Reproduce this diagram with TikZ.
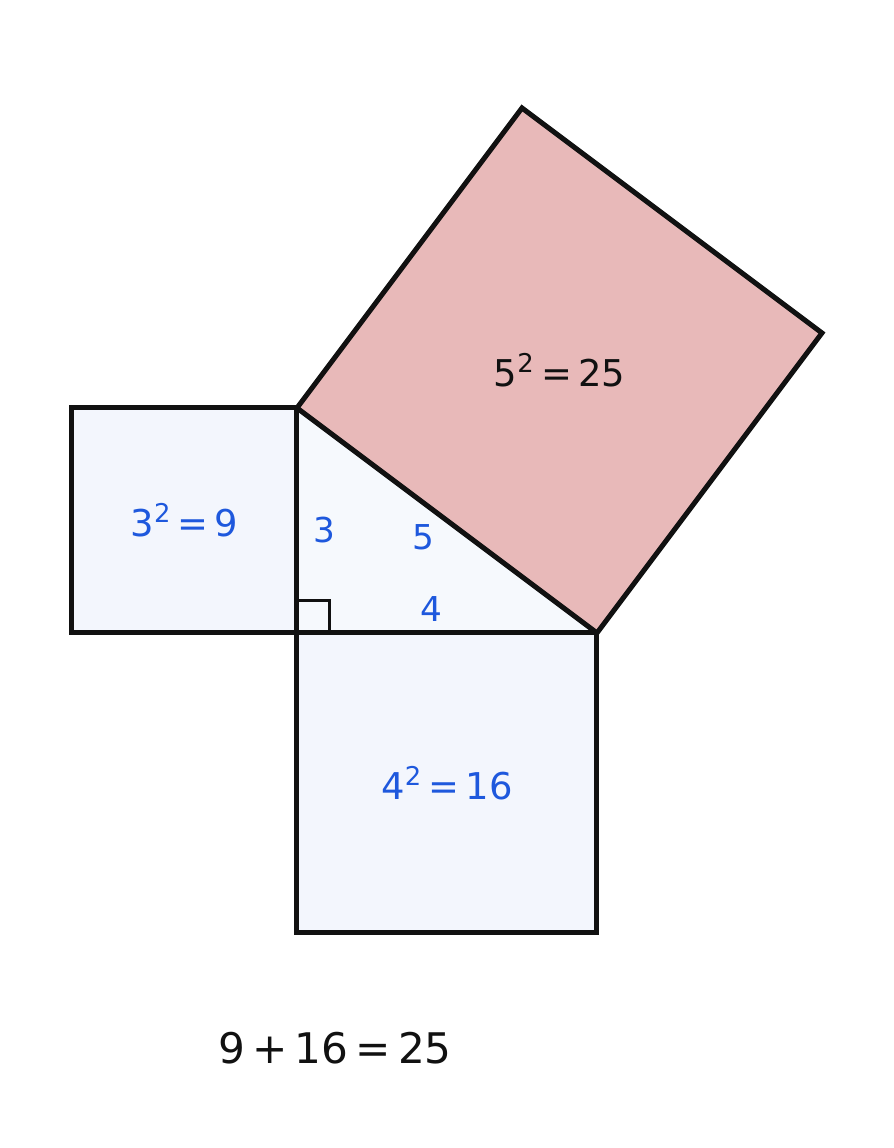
\documentclass[tikz,border=0pt]{standalone}
\usepackage{fontspec}
\setmainfont{DejaVu Sans}
\usepackage{xcolor}
\definecolor{sqblue}{HTML}{F3F6FD}
\definecolor{triblue}{HTML}{F6F9FD}
\definecolor{sqpink}{HTML}{E8B9B9}
\definecolor{labblue}{HTML}{1E58DD}
\definecolor{edge}{HTML}{111111}
\tikzset{
  sqline/.style={draw=edge,line width=1.9pt,line join=miter},
  sqlabel/.style={text=labblue,font=\fontsize{14}{16}\selectfont},
  sidelabel/.style={text=labblue,font=\fontsize{13}{15}\selectfont},
}

\begin{document}
\begin{tikzpicture}
    \useasboundingbox (-3.96,-6.867) rectangle (7.96,8.44);
    \coordinate (C) at (0,0);
    \coordinate (A) at (0,3);
    \coordinate (B) at (4,0);
    \coordinate (P) at (7,4);
    \coordinate (Q) at (3,7);
    % squares and triangle
    \path[fill=triblue] (C) -- (A) -- (B) -- cycle;
    \path[sqline,fill=sqblue] (-3,0) rectangle (A);
    \path[sqline,fill=sqblue] (C) rectangle (4,-4);
    \path[sqline,fill=sqpink] (A) -- (Q) -- (P) -- (B) -- cycle;
    \draw[draw=edge,line width=1.2pt] (0,0.43) -- (0.43,0.43) -- (0.43,0);
    \node[sqlabel] (nine) at (-1.5,1.5) {3\textsuperscript{2}\,=\,9};
    \node[sqlabel] (sixteen) at (2,-2) {4\textsuperscript{2}\,=\,16};
    \node[text=edge,font=\fontsize{14}{16}\selectfont] (twentyfive) at (3.5,3.5) {5\textsuperscript{2}\,=\,25};
    \node[sidelabel] (a) at (0.36,1.37) {3};
    \node[sidelabel] (c) at (1.69,1.27) {5};
    \node[sidelabel] (b) at (1.79,0.32) {4};
    \node[text=edge,font=\fontsize{16}{19}\selectfont] (sum) at (0.51,-5.53) {9\,+\,16\,=\,25};
\end{tikzpicture}
\end{document}
